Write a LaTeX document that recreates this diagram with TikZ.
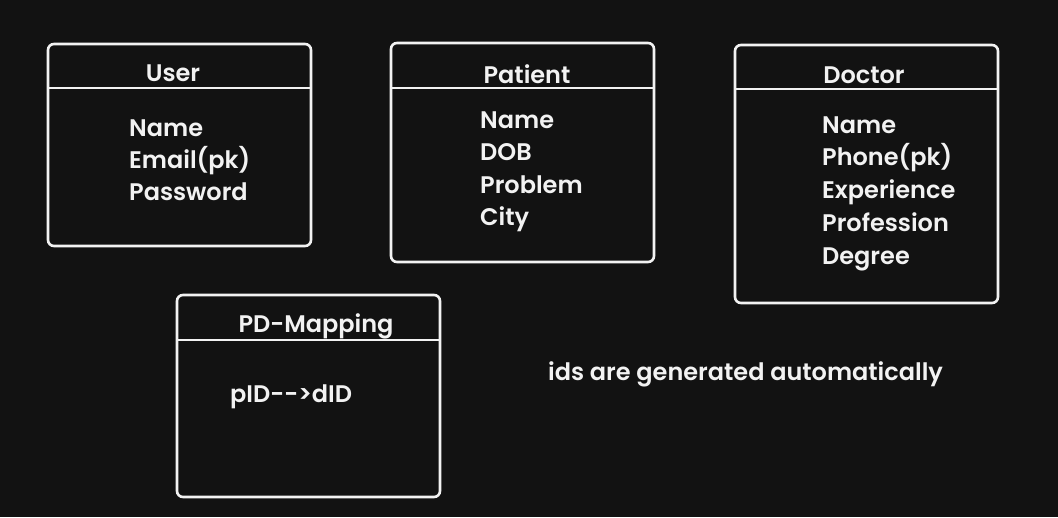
\documentclass[tikz,border=0pt]{standalone}
\usepackage{fontspec}
\setmainfont{Poppins}[UprightFont=* SemiBold]
\definecolor{bg}{HTML}{121212}
\definecolor{ink}{HTML}{F2F2F2}
\begin{document}
\begin{tikzpicture}[x=1pt,y=-1pt,
  tbl/.style={draw=ink,line width=2.6pt,rounded corners=6pt},
  hdr/.style={draw=ink,line width=2.4pt},
  title/.style={text=ink,font=\fontsize{24}{28}\selectfont,anchor=base,inner sep=0pt},
  item/.style={text=ink,font=\fontsize{24}{28}\selectfont,anchor=base west,inner sep=0pt}]
\fill[bg] (0,0) rectangle (1058,517);
\useasboundingbox (0,0) rectangle (1058,517);
% User
\draw[tbl] (48,44) rectangle (311,246);
\draw[hdr] (48,88) -- (311,88);
\node[title] (userT) at (173,81) {User};
\node[item] (u1) at (129,136) {Name};
\node[item] (u2) at (129,168) {Email(pk)};
\node[item] (u3) at (129,200) {Password};
% Patient
\draw[tbl] (391,43) rectangle (654,262);
\draw[hdr] (391,88) -- (654,88);
\node[title] (patT) at (527,83) {Patient};
\node[item] (p1) at (480,128) {Name};
\node[item] (p2) at (480,160) {DOB};
\node[item] (p3) at (480,193) {Problem};
\node[item] (p4) at (480,225) {City};
% Doctor
\draw[tbl] (735,45) rectangle (998,303);
\draw[hdr] (735,89) -- (998,89);
\node[title] (docT) at (864,83) {Doctor};
\node[item] (d1) at (822,133) {Name};
\node[item] (d2) at (822,165) {Phone(pk)};
\node[item] (d3) at (822,198) {Experience};
\node[item] (d4) at (822,231) {Profession};
\node[item] (d5) at (822,264) {Degree};
% PD-Mapping
\draw[tbl] (177,295) rectangle (440,497);
\draw[hdr] (177,340) -- (440,340);
\node[title] (pdT) at (316,332) {PD-Mapping};
\node[item] (m1) at (230,402) {pID-{}->dID};
% note
\node[item] (note) at (548,380) {ids are generated automatically};
\end{tikzpicture}
\end{document}
